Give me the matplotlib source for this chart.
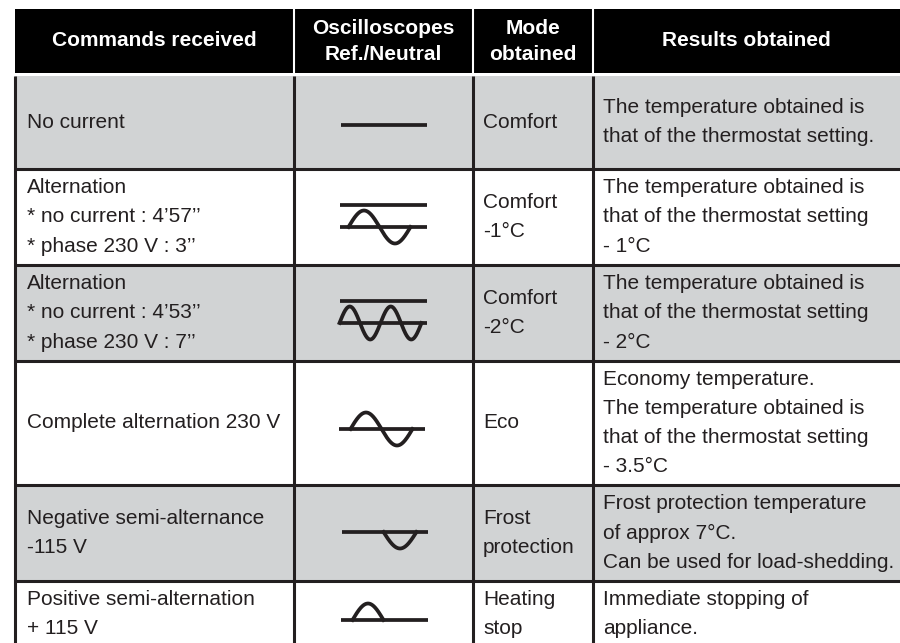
import matplotlib.pyplot as plt
import numpy as np

######################################
### TABLE CONTENT                  ###
######################################

headers = ["Commands received", "Oscilloscopes\nRef./Neutral", "Mode\nobtained", "Results obtained"]

commands = [
    ["No current"],
    ["Alternation", "* no current : 4\u201957\u2019\u2019", "* phase 230 V : 3\u2019\u2019"],
    ["Alternation", "* no current : 4\u201953\u2019\u2019", "* phase 230 V : 7\u2019\u2019"],
    ["Complete alternation 230 V"],
    ["Negative semi-alternance", "-115 V"],
    ["Positive semi-alternation", "+ 115 V"],
]

modes = [
    ["Comfort"],
    ["Comfort", "-1\u00b0C"],
    ["Comfort", "-2\u00b0C"],
    ["Eco"],
    ["Frost", "protection"],
    ["Heating", "stop"],
]

results = [
    ["The temperature obtained is", "that of the thermostat setting."],
    ["The temperature obtained is", "that of the thermostat setting", "- 1\u00b0C"],
    ["The temperature obtained is", "that of the thermostat setting", "- 2\u00b0C"],
    ["Economy temperature.", "The temperature obtained is", "that of the thermostat setting", "- 3.5\u00b0C"],
    ["Frost protection temperature", "of approx 7\u00b0C.", "Can be used for load-shedding."],
    ["Immediate stopping of", "appliance."],
]

# waveform per row: (kind, half cycles)
waves = [
    ("flat", 0),
    ("full_ref", 2),
    ("full_ref", 4),
    ("full", 2),
    ("neg", 1),
    ("pos", 1),
]

######################################
### LAYOUT (pixels)                ###
######################################

col_x = [15, 294, 473, 593, 900]
row_y = [76, 169, 265, 361, 485, 581, 648]
row_text_c = [122, 217, 313, 423, 533, 614]
shaded = [True, False, True, False, True, False]
gray = "#d1d3d4"
ink = "#231f20"
lw = 2.2
icon_lw = 2.7
fs = 15
line_h = 29.2

plt.rcParams['font.family'] = ['Liberation Sans', 'DejaVu Sans']

fig = plt.figure(figsize=(9, 6.43), dpi=100)
ax = fig.add_axes([0, 0, 1, 1])
ax.set_xlim(0, 900)
ax.set_ylim(643, 0)
ax.axis('off')

# header band
ax.fill_between([col_x[0], 900], 9, 73, color="black", lw=0)
for x in col_x[1:4]:
    ax.plot([x, x], [9, 73], color="white", lw=1.5)
hdr_c = [(15 + 294) / 2, (294 + 473) / 2, (473 + 593) / 2, (593 + 900) / 2]
for h, xc in zip(headers, hdr_c):
    lines = h.split("\n")
    n = len(lines)
    for i, t in enumerate(lines):
        y = 41 + (i - (n - 1) / 2) * 26
        ax.text(xc, y, t, color="white", fontsize=fs, fontweight="bold",
                ha="center", va="center")

# row backgrounds
for r in range(len(commands)):
    if shaded[r]:
        ax.fill_between([col_x[0], 900], row_y[r], row_y[r + 1], color=gray, lw=0)

# grid lines
for y in row_y[1:-1]:
    ax.plot([col_x[0], 900], [y, y], color=ink, lw=lw, solid_capstyle="butt")
for x in col_x[:4]:
    ax.plot([x, x], [row_y[0], 643], color=ink, lw=lw, solid_capstyle="butt")


def put_lines(x, yc, lines):
    n = len(lines)
    for i, t in enumerate(lines):
        y = yc + (i - (n - 1) / 2) * line_h
        ax.text(x, y, t, color=ink, fontsize=fs, ha="left", va="center")


for r in range(len(commands)):
    yc = row_text_c[r]
    put_lines(27, yc, commands[r])
    put_lines(483, yc, modes[r])
    put_lines(603, yc, results[r])

# oscilloscope symbols
osc_c = (294 + 473) / 2
amp = 16.5
for r, (kind, halves) in enumerate(waves):
    if kind == "flat":
        ax.plot([osc_c - 43, osc_c + 43], [125, 125], color=ink, lw=icon_lw, solid_capstyle="butt")
        continue
    if kind == "full_ref":
        y0 = row_text_c[r] + 10
        ax.plot([osc_c - 44, osc_c + 43], [y0 - 22, y0 - 22], color=ink, lw=icon_lw, solid_capstyle="butt")
        ax.plot([osc_c - 44, osc_c + 43], [y0, y0], color=ink, lw=icon_lw, solid_capstyle="butt")
        half_w = 31 if halves == 2 else 20.5
        x_start = osc_c - 35 if halves == 2 else osc_c - 44
        sign = 1
    elif kind == "full":
        y0 = 429
        ax.plot([osc_c - 45, osc_c + 41], [y0, y0], color=ink, lw=icon_lw, solid_capstyle="butt")
        half_w = 31
        x_start = osc_c - 33
        sign = 1
    elif kind == "neg":
        y0 = 532
        ax.plot([osc_c - 42, osc_c + 44], [y0, y0], color=ink, lw=icon_lw, solid_capstyle="butt")
        half_w = 33
        x_start = osc_c
        sign = -1
    else:
        y0 = 620
        ax.plot([osc_c - 43, osc_c + 44], [y0, y0], color=ink, lw=icon_lw, solid_capstyle="butt")
        half_w = 31
        x_start = osc_c - 31
        sign = 1
    t = np.linspace(0, halves * np.pi, 200)
    xs = x_start + t / np.pi * half_w
    ys = y0 - sign * amp * np.sin(t)
    ax.plot(xs, ys, color=ink, lw=icon_lw)

fig.savefig("out.png", dpi=100, facecolor="white")
